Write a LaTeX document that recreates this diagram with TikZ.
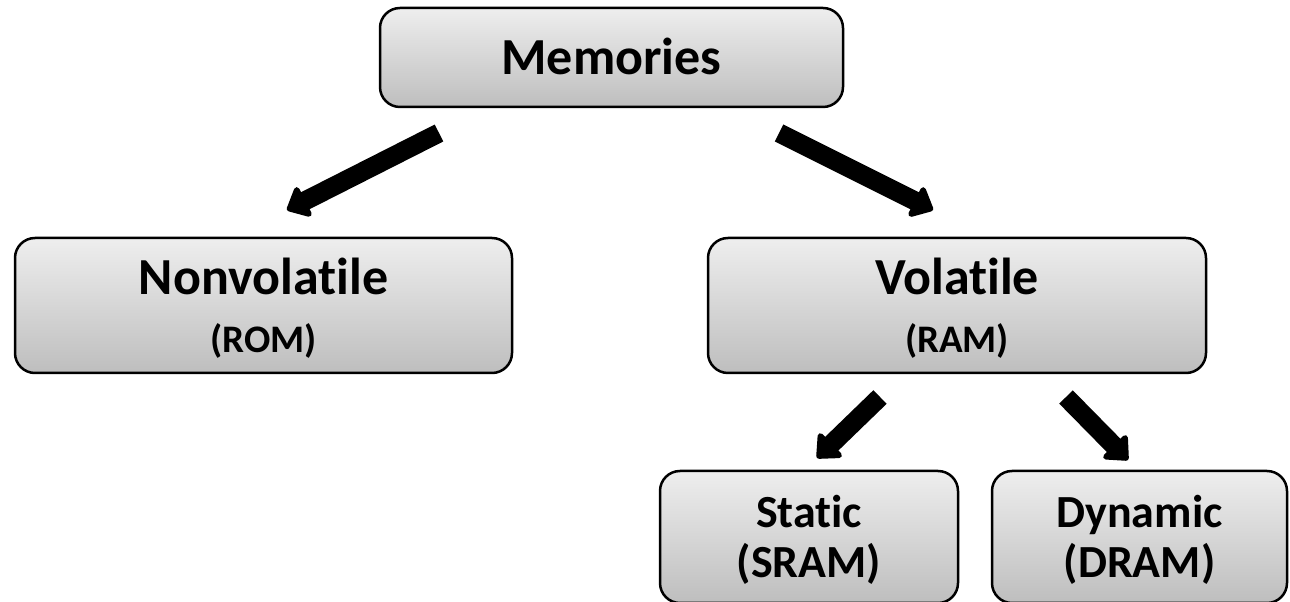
\documentclass[tikz,border=0pt]{standalone}
\usepackage{fontspec}
\setmainfont{Carlito}[Ligatures={NoCommon,NoContextual,NoRare,NoRequired}]
\usetikzlibrary{arrows.meta}
\definecolor{boxtop}{HTML}{EEEEEE}
\definecolor{boxbot}{HTML}{BEBEBE}
% keeps "t" and "i" as separate glyphs
\newcommand\sepglyph{\kern0pt\relax}
\tikzset{
  membox/.style={draw=black, line width=2.5pt, rounded corners=20pt,
    top color=boxtop, bottom color=boxbot, inner sep=0pt},
  bigtext/.style={anchor=base, font=\bfseries\fontsize{52pt}{52pt}\selectfont},
  subtext/.style={anchor=base, font=\bfseries\fontsize{39pt}{39pt}\selectfont},
  leaftext/.style={anchor=base, font=\bfseries\fontsize{46pt}{46pt}\selectfont},
  blockarrow/.style={line width=19pt, black,
    -{Triangle[round, width=38pt, length=22pt]}}
}
\begin{document}
\begin{tikzpicture}[x=1pt, y=1pt]
\useasboundingbox (0,0) rectangle (1290,602);

% boxes
\node[membox, minimum width=463pt, minimum height=99pt]  (mem)  at (611.5,544.5) {};
\node[membox, minimum width=497pt, minimum height=135pt] (nv)   at (263.5,296.5) {};
\node[membox, minimum width=498pt, minimum height=135pt] (vol)  at (957,296.5) {};
\node[membox, minimum width=298pt, minimum height=132pt] (sram) at (809,65) {};
\node[membox, minimum width=295pt, minimum height=132pt] (dram) at (1139.5,65) {};

% labels
\node[bigtext] (memt) at (611.5,527) {Memories};
\node[bigtext] (nvt)  at (263.5,307) {Nonvolat\sepglyph ile};
\node[subtext] (nvs)  at (263.5,249) {(ROM)};
\node[bigtext] (volt) at (957,307) {Volat\sepglyph ile};
\node[subtext] (vols) at (957,249) {(RAM)};
\node[leaftext] (srt) at (809,74) {Stat\sepglyph ic};
\node[leaftext] (srs) at (809,24) {(SRAM)};
\node[leaftext] (drt) at (1139.5,74) {Dynamic};
\node[leaftext] (drs) at (1139.5,24) {(DRAM)};

% arrow end points between the boxes
\coordinate (a1s) at (439,469);
\coordinate (a1e) at (287,392);
\coordinate (a2s) at (779,469);
\coordinate (a2e) at (933,392);
\coordinate (a3s) at (880,205);
\coordinate (a3e) at (817,144);
\coordinate (a4s) at (1066,205);
\coordinate (a4e) at (1128,142);

\draw[blockarrow] (a1s) -- (a1e);
\draw[blockarrow] (a2s) -- (a2e);
\draw[blockarrow] (a3s) -- (a3e);
\draw[blockarrow] (a4s) -- (a4e);
\end{tikzpicture}
\end{document}
